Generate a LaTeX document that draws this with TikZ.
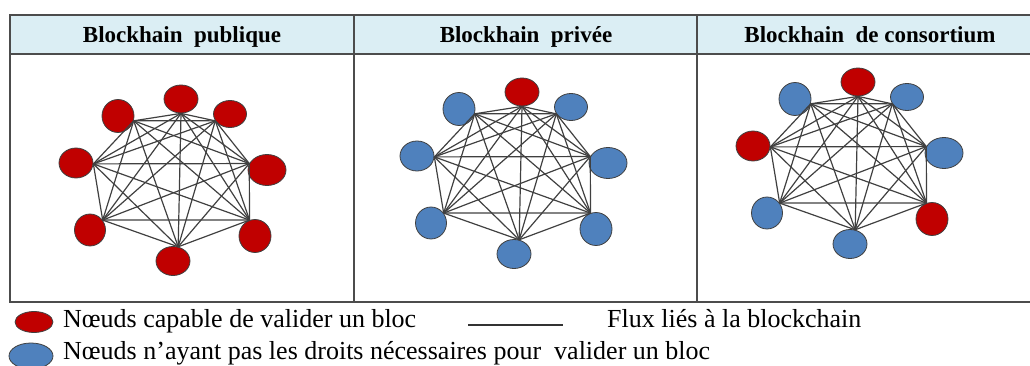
\documentclass[tikz,border=0pt]{standalone}
\usepackage{fontspec}
\setmainfont{Liberation Serif}
\usetikzlibrary{shapes.geometric}
\definecolor{rougebloc}{HTML}{C00000}
\definecolor{bleubloc}{HTML}{4F81BD}
\definecolor{entete}{HTML}{DBEEF4}

\begin{document}
\begin{tikzpicture}[x=1pt,y=-1pt,
		noeud/.style={ellipse,draw=black!75,line width=0.8pt,fill=bleubloc,inner sep=0pt},
		valide/.style={fill=rougebloc},
		flux/.style={draw=black!75,line width=1.2pt},
		cadre/.style={draw=black!70,line width=1.4pt},
		titre/.style={font=\fontsize{23}{27}\selectfont\bfseries,anchor=base},
		legende/.style={font=\fontsize{26}{30}\selectfont,anchor=base west,inner sep=0pt},
		n1/.style={},n2/.style={},n3/.style={},n4/.style={},
		n5/.style={},n6/.style={},n7/.style={},n8/.style={},
		%couleurs des noeuds par type de blockchain
		couleurs pub/.style={noeud/.append style={valide}},
		couleurs priv/.style={n1/.style={valide}},
		couleurs cons/.style={n1/.style={valide},n4/.style={valide},n7/.style={valide}}
		]
	\useasboundingbox (0,0) rectangle (1030,366);
	\clip (0,0) rectangle (1030,366);
	
	% Tableau
	% ----------------------
	\fill[entete] (10,15) rectangle (1043,54);
	\draw[cadre] (10,15) rectangle (1043,302);
	\draw[cadre] (10,54) -- (1043,54);
	\draw[cadre] (354,15) -- (354,302);
	\draw[cadre] (697,15) -- (697,302);
	
	\node[titre] (t-pub) at (182,42.5) {Blockhain~ publique};
	\node[titre] (t-priv) at (526,42.5) {Blockhain~ privée};
	\node[titre] (t-cons) at (870,42.5) {Blockhain~ de consortium};
	
	% Réseaux (8 noeuds, tous reliés)
	% ----------------------
	\foreach \pn/\dx/\dy in {pub/0/0,priv/341/-7,cons/677/-17}{
		\begin{scope}[shift={(\dx,\dy)},couleurs \pn]
			% noeuds : numéro / x / y / angle du point de contact / largeur / hauteur
			\foreach \i/\x/\y/\a/\w/\h in {
				1/181/99/-90/34/28,
				2/230/114/-155/33/27,
				3/267/170/160/38/31,
				4/255/236/109/32/33,
				5/173/261/70/34/29,
				6/90/230/38/31/32,
				7/76/163/-3/34/30,
				8/118/116/-17/32/33}
			{
				\node[noeud,n\i,minimum width=\w,minimum height=\h] (\pn-\i) at (\x,\y) {};
				\coordinate (\pn-\i-p) at (\pn-\i.\a);
			}
			% flux
			\foreach \i in {1,...,8}
				\foreach \j in {1,...,8}
					{\ifnum\i<\j \draw[flux] (\pn-\i-p) -- (\pn-\j-p); \fi}
		\end{scope}
	}
	
	% Légende
	% ----------------------
	\node[noeud,valide,minimum width=38,minimum height=21] (leg-valide) at (34,322) {};
	\node[legende] (txt-valide) at (63,327) {Nœuds capable de valider un bloc};
	
	\coordinate (flux-a) at (468,325);
	\coordinate (flux-b) at (563,325);
	\draw[black!80,line width=1.1pt] (flux-a) -- (flux-b);
	\node[legende] (txt-flux) at (607,327) {Flux liés à la blockchain};
	
	\node[noeud,minimum width=44,minimum height=26] (leg-autre) at (31,356) {};
	\node[legende] (txt-autre) at (63,359) {Nœuds n’ayant pas les droits nécessaires pour~ valider un bloc};
	
\end{tikzpicture}
\end{document}
